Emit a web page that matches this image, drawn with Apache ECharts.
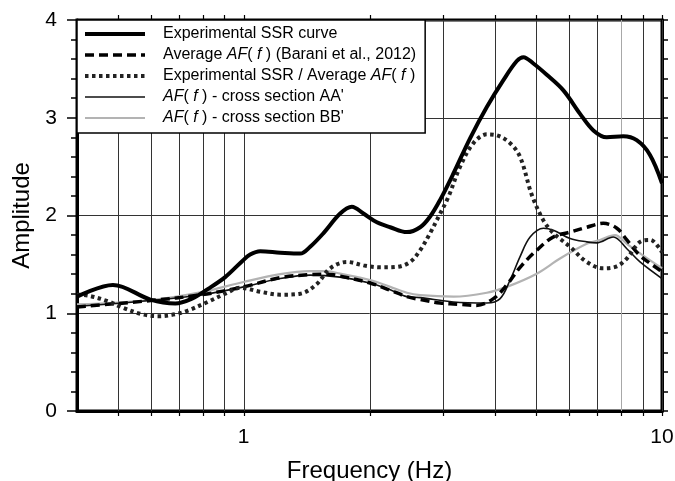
<!DOCTYPE html>
<html>
<head>
<meta charset="utf-8">
<script src="https://cdn.jsdelivr.net/npm/echarts@6/dist/echarts.min.js"></script>
<style>html,body{margin:0;padding:0;background:#fff}#c{width:675px;height:481px}</style>
</head>
<body>
<div id="c"></div>
<script>
// ---- data ----
var ssrF = [0.4, 0.4875, 0.599, 0.687, 0.753, 0.823, 0.904, 0.991, 1.037, 1.096, 1.224, 1.366, 1.443, 1.553, 1.702, 1.815, 1.934, 2.083, 2.241, 2.457, 2.643, 2.792, 2.95, 3.174, 3.478, 3.814, 4.178, 4.498, 4.665, 4.927, 5.304, 5.812, 6.371, 6.856, 7.38, 8.08, 8.70, 9.36, 10];
var ssrA = [1.17, 1.29, 1.14, 1.10, 1.15, 1.25, 1.37, 1.53, 1.60, 1.635, 1.62, 1.61, 1.68, 1.82, 2.02, 2.09, 2.02, 1.93, 1.88, 1.83, 1.88, 1.99, 2.16, 2.43, 2.79, 3.11, 3.385, 3.58, 3.62, 3.555, 3.44, 3.28, 3.04, 2.87, 2.80, 2.81, 2.77, 2.62, 2.33];

var avgF = [0.4, 0.6, 0.7955, 1.0, 1.224, 1.443, 1.582, 1.702, 2.007, 2.241, 2.457, 2.643, 2.95, 3.3, 3.6, 3.955, 4.257, 4.58, 5.02, 5.5, 6.03, 6.61, 7.24, 7.8, 8.24, 8.86, 9.89, 10];
var avgA = [1.065, 1.13, 1.19, 1.27, 1.365, 1.395, 1.40, 1.38, 1.31, 1.235, 1.17, 1.14, 1.105, 1.09, 1.08, 1.15, 1.29, 1.47, 1.645, 1.78, 1.83, 1.88, 1.92, 1.87, 1.75, 1.59, 1.44, 1.42];

var ratF = [0.4, 0.4264, 0.476, 0.5125, 0.572, 0.6266, 0.687, 0.739, 0.825, 0.904, 0.982, 1.096, 1.224, 1.366, 1.497, 1.611, 1.766, 1.934, 2.121, 2.325, 2.501, 2.643, 2.792, 2.95, 3.087, 3.293, 3.543, 3.814, 4.029, 4.335, 4.58, 4.886, 5.207, 5.5, 6.03, 6.61, 7.24, 7.8, 8.24, 8.86, 9.36, 9.89, 10];
var ratA = [1.19, 1.18, 1.12, 1.06, 0.99, 0.97, 0.99, 1.03, 1.12, 1.20, 1.26, 1.22, 1.19, 1.20, 1.30, 1.46, 1.525, 1.49, 1.47, 1.475, 1.525, 1.645, 1.82, 2.02, 2.19, 2.50, 2.74, 2.83, 2.82, 2.74, 2.60, 2.21, 1.95, 1.82, 1.68, 1.525, 1.46, 1.48, 1.56, 1.73, 1.75, 1.66, 1.62];

var aaF = [0.4, 0.6, 0.8, 1.0, 1.224, 1.443, 1.7, 2.0, 2.241, 2.457, 2.643, 3.174, 3.814, 4.104, 4.335, 4.58, 4.84, 5.207, 5.5, 6.03, 6.61, 6.98, 7.65, 8.24, 8.86, 10];
var aaA = [1.07, 1.13, 1.19, 1.27, 1.355, 1.39, 1.37, 1.31, 1.24, 1.17, 1.16, 1.115, 1.105, 1.15, 1.34, 1.58, 1.78, 1.87, 1.85, 1.765, 1.73, 1.72, 1.78, 1.66, 1.525, 1.355];

var bbF = [0.4, 0.6, 0.8, 1.0, 1.224, 1.443, 1.582, 1.702, 2.007, 2.241, 2.457, 2.643, 3.174, 3.814, 4.257, 5.02, 5.706, 6.61, 7.11, 7.72, 8.24, 9.02, 10];
var bbA = [1.09, 1.135, 1.22, 1.32, 1.40, 1.43, 1.43, 1.405, 1.34, 1.27, 1.21, 1.185, 1.17, 1.21, 1.27, 1.405, 1.56, 1.71, 1.75, 1.80, 1.71, 1.59, 1.46];

var gridFreqs = [0.5, 0.6, 0.7, 0.8, 0.9, 1, 2, 3, 4, 5, 6, 7, 8, 9, 10];
var xTickLabels = [1, 10];

var names = ['Experimental SSR curve', 'Average AF( f ) (Barani et al., 2012)', 'Experimental SSR / Average AF( f )', "AF( f ) - cross section AA'", "AF( f ) - cross section BB'"];
var legendRich = ['Experimental SSR curve', 'Average {i|AF}( {i|f} ) (Barani et al., 2012)', 'Experimental SSR / Average {i|AF}( {i|f} )', "{i|AF}( {i|f} ) - cross section AA'", "{i|AF}( {i|f} ) - cross section BB'"];

function zip(f, a) { return f.map(function (v, i) { return [v, a[i]]; }); }

var FONT = '"Liberation Sans", Arial, Helvetica, sans-serif';
var chart = echarts.init(document.getElementById('c'), null, { renderer: 'canvas' });

// vertical grid lines with short outward ticks at top and bottom, placed through the axes
function renderGridLine(params, api) {
  var f = api.value(0);
  var p0 = api.coord([f, 0]);
  var p1 = api.coord([f, 4]);
  var col = Math.abs(f - 8) < 1e-9 ? '#a8a8a8' : '#333';
  var x = Math.round(p0[0]) + 0.5;
  return {
    type: 'group',
    children: [
      { type: 'line', shape: { x1: x, y1: p0[1], x2: x, y2: p1[1] }, style: { stroke: col, lineWidth: 1 } },
      { type: 'line', shape: { x1: x, y1: p0[1], x2: x, y2: p0[1] + 5 }, style: { stroke: '#000', lineWidth: 1.2 } },
      { type: 'line', shape: { x1: x, y1: p1[1], x2: x, y2: p1[1] - 5 }, style: { stroke: '#000', lineWidth: 1.2 } }
    ]
  };
}

chart.setOption({
  animation: false,
  backgroundColor: '#fff',
  textStyle: { fontFamily: FONT },
  grid: { left: 77, right: 13, top: 20, bottom: 70, show: true, borderColor: '#000', borderWidth: 3,
    backgroundColor: 'transparent', outerBoundsMode: 'none', containLabel: false },
  legend: {
    data: names,
    orient: 'vertical',
    left: 77, top: 20,
    padding: [6, 9, 7, 6],
    itemWidth: 60, itemHeight: 14, itemGap: 5,
    backgroundColor: '#fff', borderColor: '#000', borderWidth: 1.5, borderRadius: 0,
    lineStyle: { width: 'inherit' },
    itemStyle: { color: 'transparent', borderWidth: 0, opacity: 0 },
    textStyle: { fontFamily: FONT, fontSize: 16, color: '#000', lineHeight: 16, padding: [0, 0, 0, 13],
      rich: { i: { fontStyle: 'italic', fontSize: 16, fontFamily: FONT, color: '#000' } } },
    formatter: function (n) { return legendRich[names.indexOf(n)]; },
    selectedMode: false
  },
  xAxis: {
    type: 'log', logBase: 10, min: 0.4, max: 10,
    name: 'Frequency (Hz)', nameLocation: 'middle', nameGap: 48,
    nameTextStyle: { fontSize: 24, color: '#000', fontFamily: FONT },
    axisLine: { show: true, lineStyle: { color: '#000', width: 3 } },
    axisTick: { show: false },
    splitLine: { show: false },
    axisLabel: { fontSize: 21, color: '#000', margin: 16, fontFamily: FONT,
      formatter: function (v) { for (var i = 0; i < xTickLabels.length; i++) { if (Math.abs(v - xTickLabels[i]) < 1e-6) return String(xTickLabels[i]); } return ''; } }
  },
  yAxis: [{
    type: 'value', min: 0, max: 4, interval: 1,
    name: 'Amplitude', nameLocation: 'middle', nameGap: 39,
    nameTextStyle: { fontSize: 24, color: '#000', fontFamily: FONT },
    axisLine: { show: true, lineStyle: { color: '#000', width: 3 } },
    axisTick: { show: true, length: 10, lineStyle: { color: '#000', width: 1.5 } },
    minorTick: { show: true, splitNumber: 5, length: 6, lineStyle: { color: '#000', width: 1.5 } },
    splitLine: { show: true, lineStyle: { color: '#333', width: 1 } },
    axisLabel: { fontSize: 21, color: '#000', margin: 20, fontFamily: FONT }
  }, {
    type: 'value', min: 0, max: 4, interval: 1, position: 'right',
    axisLine: { show: true, lineStyle: { color: '#000', width: 3 } },
    axisTick: { show: true, length: 6, lineStyle: { color: '#000', width: 1.5 } },
    minorTick: { show: true, splitNumber: 5, length: 6, lineStyle: { color: '#000', width: 1.5 } },
    splitLine: { show: false },
    axisLabel: { show: false }
  }],
  series: [
    { type: 'custom', name: '_grid', data: gridFreqs.map(function (f) { return [f]; }), renderItem: renderGridLine,
      silent: true, clip: false, z: 1, encode: { x: 0 } },
    { type: 'line', name: names[4], data: zip(bbF, bbA), symbol: 'none', smooth: 0.35, z: 3,
      lineStyle: { color: '#b3b3b3', width: 2.2, type: 'solid' }, itemStyle: { color: '#b3b3b3' } },
    { type: 'line', name: names[3], data: zip(aaF, aaA), symbol: 'none', smooth: 0.35, z: 4,
      lineStyle: { color: '#111', width: 1.6, type: 'solid' }, itemStyle: { color: '#111' } },
    { type: 'line', name: names[1], data: zip(avgF, avgA), symbol: 'none', smooth: 0.35, z: 5,
      lineStyle: { color: '#000', width: 3.5, type: [9, 5], cap: 'butt' }, itemStyle: { color: '#000' } },
    { type: 'line', name: names[2], data: zip(ratF, ratA), symbol: 'none', smooth: 0.35, z: 6,
      lineStyle: { color: '#222', width: 4, type: [3.5, 3.5], cap: 'butt' }, itemStyle: { color: '#222' } },
    { type: 'line', name: names[0], data: zip(ssrF, ssrA), symbol: 'none', smooth: 0.35, z: 7,
      lineStyle: { color: '#000', width: 4, type: 'solid' }, itemStyle: { color: '#000' } }
  ]
});
</script>
</body>
</html>
